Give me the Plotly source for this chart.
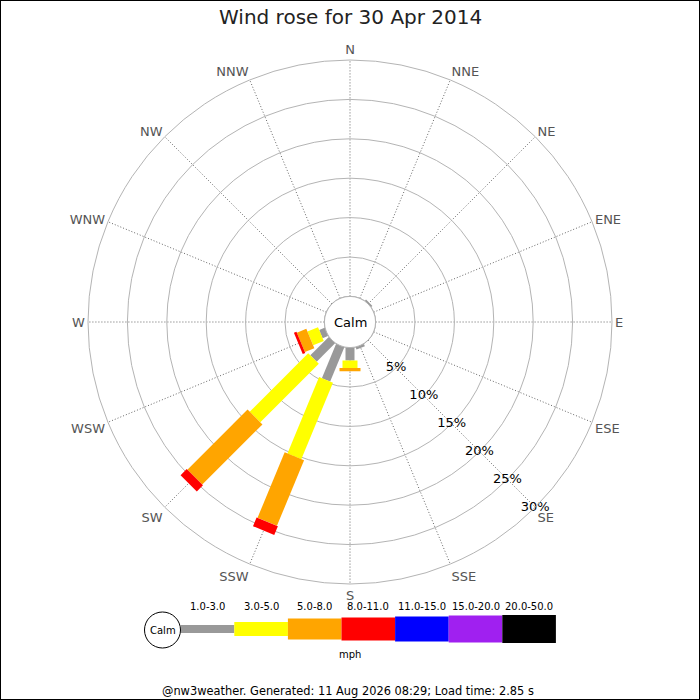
"""
wind rose for one day, drawn as stacked spokes on a polar axis
legend strip + footer underneath
"""
import plotly.graph_objects as go

# 16 compass points, clockwise from north
directions = ["N", "NNE", "NE", "ENE", "E", "ESE", "SE", "SSE",
              "S", "SSW", "SW", "WSW", "W", "WNW", "NW", "NNW"]

# speed bands (mph) and percentage of the day in each band, per direction
speed_bands = ["1.0-3.0", "3.0-5.0", "5.0-8.0", "8.0-11.0",
               "11.0-15.0", "15.0-20.0", "20.0-50.0"]
band_1_3 = [0, 0, 0.2, 0, 0, 0, 0, 0.3, 1.65, 4.7, 3.3, 0.75, 0, 0, 0, 0]
band_3_5 = [0, 0, 0, 0, 0, 0, 0, 0, 0.95, 10.5, 10.5, 1.45, 0, 0, 0, 0]
band_5_8 = [0, 0, 0, 0, 0, 0, 0, 0, 0.4, 9.0, 10.8, 1.3, 0, 0, 0, 0]
band_8_11 = [0, 0, 0, 0, 0, 0, 0, 0, 0, 1.2, 1.1, 0.35, 0, 0, 0, 0]
band_11_15 = [0] * 16
band_15_20 = [0] * 16
band_20_50 = [0] * 16

ring_ticks = [5, 10, 15, 20, 25, 30]

title = "Wind rose for 30 Apr 2014"
footer = "@nw3weather. Generated: 11 Aug 2026 08:29; Load time: 2.85 s"

colours = ["#999999", "#ffff00", "#ffa500", "#ff0000",
           "#0000ff", "#a020f0", "#000000"]
widths = [9, 15, 21, 23, 25, 27, 28]
FONT = "DejaVu Sans"
W = H = 700


def px(x):
    return x / W


def py(y):
    return 1 - y / H


def label(x, y, text, size, colour="black"):
    # plain centred text at pixel position (x, y)
    return dict(x=px(x), y=py(y), text=text, showarrow=False,
                xanchor="center", yanchor="middle",
                font=dict(family=FONT, size=size, color=colour))


bands = [band_1_3, band_3_5, band_5_8, band_8_11,
         band_11_15, band_15_20, band_20_50]
angles = [i * 22.5 for i in range(len(directions))]

fig = go.Figure()

# calm circle = edge of the polar hole (r=0)
circle_theta = [i * 2 for i in range(181)]
fig.add_trace(go.Scatterpolar(r=[0] * len(circle_theta), theta=circle_theta,
                              mode="lines", line=dict(color="#999999", width=1),
                              hoverinfo="skip", showlegend=False))

# stacked spokes
for d, ang in enumerate(angles):
    base = 0
    for b, band in enumerate(bands):
        v = band[d]
        if v <= 0:
            continue
        fig.add_trace(go.Scatterpolar(
            r=[base, base + v], theta=[ang, ang], mode="lines",
            line=dict(color=colours[b], width=widths[b]),
            name=speed_bands[b], showlegend=False))
        base += v

# ring labels along the SE spoke
fig.add_trace(go.Scatterpolar(
    r=ring_ticks, theta=[135] * len(ring_ticks), mode="text",
    text=[f"{t}%" for t in ring_ticks],
    textfont=dict(family=FONT, size=13, color="black"),
    cliponaxis=False, hoverinfo="skip", showlegend=False))

cx, cy, R = 350, 322, 262
fig.update_layout(
    width=W, height=H, autosize=False,
    margin=dict(l=0, r=0, t=0, b=0),
    paper_bgcolor="white", plot_bgcolor="white",
    font=dict(family=FONT),
    polar=dict(
        domain=dict(x=[px(cx - R), px(cx + R)], y=[py(cy + R), py(cy - R)]),
        hole=25.6 / R,
        bgcolor="white",
        radialaxis=dict(range=[0, 30], tickvals=ring_ticks[:-1],
                        showticklabels=False, ticks="", showline=False,
                        gridcolor="#b4b4b4", gridwidth=1),
        angularaxis=dict(rotation=90, direction="clockwise",
                         tickmode="array", tickvals=angles, ticktext=directions,
                         ticks="", showline=True, linecolor="#b4b4b4",
                         gridcolor="#666666", griddash="1px,2px", gridwidth=1,
                         tickfont=dict(family=FONT, size=13, color="#555555")),
    ),
)

annotations = [
    label(350, 17, title, 20, "#222222"),
    label(cx, cy, "Calm", 13),
    label(350, 654, "mph", 10),
    label(348, 691, footer, 11.4),
    label(162.5, 630, "Calm", 10),
]

# legend strip
shapes = [dict(type="rect", xref="paper", yref="paper", x0=0, x1=1, y0=0, y1=1,
               line=dict(color="black", width=2), fillcolor="rgba(0,0,0,0)"),
          dict(type="circle", xref="paper", yref="paper",
               x0=px(144.5), x1=px(180.5), y0=py(648), y1=py(612),
               line=dict(color="black", width=1), fillcolor="white")]
seg_w = 53.6
x_start = 180.7
leg_h = [8, 14, 21, 23, 25, 27, 28]
for b, lab in enumerate(speed_bands):
    x0 = x_start + b * seg_w
    shapes.append(dict(type="rect", xref="paper", yref="paper",
                       x0=px(x0), x1=px(x0 + seg_w),
                       y0=py(629 + leg_h[b] / 2), y1=py(629 - leg_h[b] / 2),
                       line=dict(width=0), fillcolor=colours[b], layer="below"))
    annotations.append(label(x0 + seg_w / 2, 606, lab, 10))

fig.update_layout(shapes=shapes, annotations=annotations)
fig.write_html("out.html", config={"displayModeBar": False},
               post_script="document.body.style.margin='0';"
                           "document.body.style.overflow='hidden';")
